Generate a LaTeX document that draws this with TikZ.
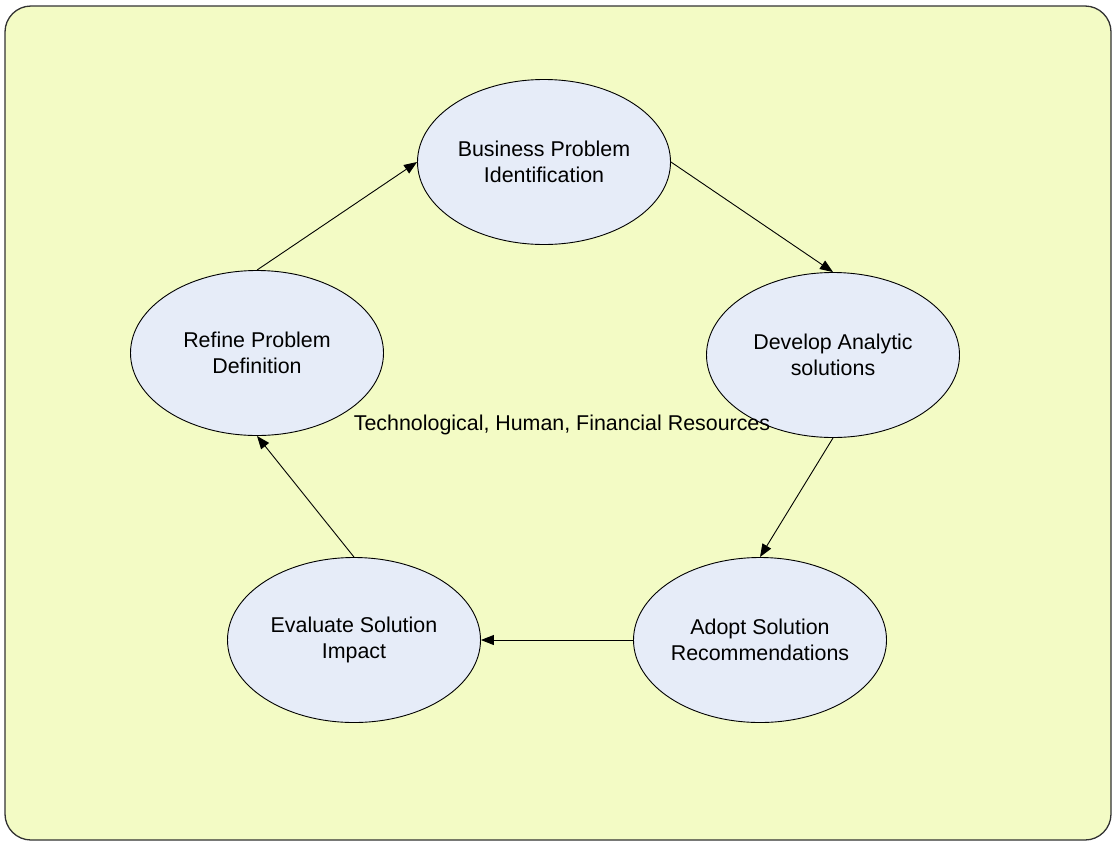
\documentclass[tikz,border=0pt]{standalone}
\usepackage{fontspec}
\setmainfont{Liberation Sans}
\usetikzlibrary{shapes.geometric,arrows.meta}
\definecolor{bgfill}{RGB}{243,251,197}
\definecolor{ellfill}{RGB}{230,236,248}
\definecolor{frame}{RGB}{50,50,50}
\tikzset{
  stage/.style={ellipse, draw=black, line width=0.9pt, fill=ellfill, minimum width=253pt, minimum height=165pt, inner sep=0pt, align=center, font=\fontsize{21.4}{26}\selectfont},
  flow/.style={draw=black, line width=0.9pt, -{Triangle[length=13pt,width=10pt]}},
}
\begin{document}
\begin{tikzpicture}[x=1pt,y=-1pt]
\useasboundingbox (0,0) rectangle (1115,844);
\draw[frame, line width=1.3pt, fill=bgfill, rounded corners=26pt] (5,6) rectangle (1111,840);
\node[stage] (bpi) at (544,162) {Business Problem\\Identification};
\node[stage] (das) at (833,355) {Develop Analytic\\solutions};
\node[stage] (asr) at (760,640) {Adopt Solution\\Recommendations};
\node[stage] (esi) at (354,640) {Evaluate Solution\\Impact};
\node[stage] (rpd) at (257,353) {Refine Problem\\Definition};
\node[font=\fontsize{21.4}{26}\selectfont, inner sep=0pt] (res) at (562,425) {Technological, Human, Financial Resources};
\draw[flow] (rpd.north) -- (bpi.west);
\draw[flow] (bpi.east) -- (das.north);
\draw[flow] (das.south) -- (asr.north);
\draw[flow] (asr.west) -- (esi.east);
\draw[flow] (esi.north) -- (rpd.south);
\end{tikzpicture}
\end{document}
